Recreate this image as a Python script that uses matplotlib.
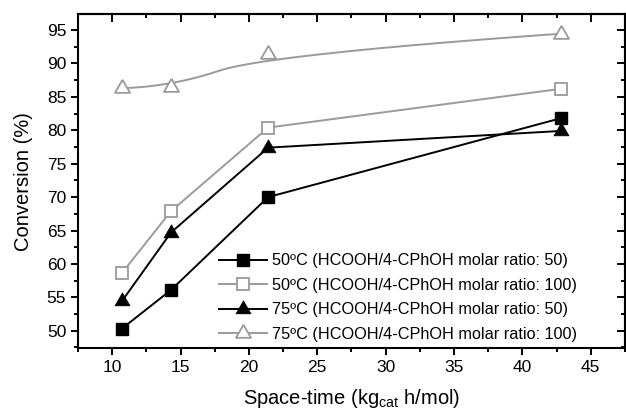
import numpy as np
import matplotlib.pyplot as plt
from matplotlib.ticker import MultipleLocator

plt.rcParams['font.family'] = ['Liberation Sans', 'DejaVu Sans']

# space-time (kg_cat h/mol)
space_time = [10.7, 14.3, 21.4, 42.8]

# conversion (%)
conv_50C_r50 = [50.3, 56.1, 70.0, 81.8]
conv_50C_r100 = [58.6, 67.9, 80.4, 86.2]
conv_75C_r50 = [54.4, 64.7, 77.4, 79.9]
conv_75C_r100 = [86.3, 86.5, 91.35, 94.45]

labels = ["50\u00baC (HCOOH/4-CPhOH molar ratio: 50)",
          "50\u00baC (HCOOH/4-CPhOH molar ratio: 100)",
          "75\u00baC (HCOOH/4-CPhOH molar ratio: 50)",
          "75\u00baC (HCOOH/4-CPhOH molar ratio: 100)"]

grey = "#9a9a9a"
lw = 1.4

# triangle centred on its centroid (like origin draws it)
tri = [(0, 2), (-1.732, -1), (1.732, -1), (0, 2)]

# quadratic b-spline with the points as control points (origin "b-spline" line)
def bspline2(xs, ys, n=100):
    px = np.array(xs, float)
    py = np.array(ys, float)
    # control points of the bezier pieces: P0, P1, mid(P1,P2), ..., Pn
    mx = (px[1:-2] + px[2:-1]) / 2
    my = (py[1:-2] + py[2:-1]) / 2
    starts_x = np.concatenate([[px[0]], mx])
    starts_y = np.concatenate([[py[0]], my])
    ends_x = np.concatenate([mx, [px[-1]]])
    ends_y = np.concatenate([my, [py[-1]]])
    t = np.linspace(0, 1, n)
    out_x, out_y = [], []
    for i in range(len(starts_x)):
        cx, cy = px[i + 1], py[i + 1]
        out_x.append((1-t)**2*starts_x[i] + 2*(1-t)*t*cx + t**2*ends_x[i])
        out_y.append((1-t)**2*starts_y[i] + 2*(1-t)*t*cy + t**2*ends_y[i])
    return np.concatenate(out_x), np.concatenate(out_y)

fig = plt.figure(figsize=(6.26, 4.12), dpi=100)
ax = fig.add_axes([0.1246, 0.155, 0.8738, 0.811])

ax.plot(space_time, conv_50C_r50, color="black", lw=lw, marker="s", ms=8.5,
        mfc="black", mec="black", label=labels[0])
ax.plot(space_time, conv_50C_r100, color=grey, lw=lw, marker="s", ms=8.5,
        mfc="white", mec=grey, mew=1.3, label=labels[1])
ax.plot(space_time, conv_75C_r50, color="black", lw=lw, marker=tri, ms=12.5,
        mfc="black", mec="black", mew=0.5, label=labels[2])

sx, sy = bspline2(space_time, conv_75C_r100)
ax.plot(sx, sy, color=grey, lw=lw)
ax.plot(space_time, conv_75C_r100, ls="none", marker=tri, ms=12.5,
        mfc="white", mec=grey, mew=1.3)
# legend proxy for the smoothed series
ax.plot([], [], color=grey, lw=lw, marker=tri, ms=12.5, mfc="white", mec=grey,
        mew=1.3, label=labels[3])

ax.set_xlim(7.5, 47.5)
ax.set_ylim(47.4, 97.4)

ax.xaxis.set_major_locator(MultipleLocator(5))
ax.xaxis.set_minor_locator(MultipleLocator(2.5))
ax.yaxis.set_major_locator(MultipleLocator(5))
ax.yaxis.set_minor_locator(MultipleLocator(2.5))

ax.tick_params(which="both", direction="out", width=1.4, labelsize=12.5)
ax.tick_params(which="major", length=5)
ax.tick_params(which="minor", length=3)

# top/right ticks point inwards
top = ax.secondary_xaxis("top")
top.xaxis.set_major_locator(MultipleLocator(5))
top.xaxis.set_minor_locator(MultipleLocator(2.5))
top.tick_params(which="both", direction="in", width=1.4, labeltop=False)
top.tick_params(which="major", length=5.5)
top.tick_params(which="minor", length=3)
right = ax.secondary_yaxis("right")
right.yaxis.set_major_locator(MultipleLocator(5))
right.yaxis.set_minor_locator(MultipleLocator(2.5))
right.tick_params(which="both", direction="in", width=1.4, labelright=False)
right.tick_params(which="major", length=5.5)
right.tick_params(which="minor", length=3)

for sp in list(ax.spines.values()) + [top.spines["top"], right.spines["right"]]:
    sp.set_linewidth(1.5)

ax.set_xlabel("Space-time (kg$_{\\mathregular{cat}}$ h/mol)", fontsize=14.5, labelpad=9)
ax.set_ylabel("Conversion (%)", fontsize=14.5, labelpad=10)

ax.legend(loc="lower left", bbox_to_anchor=(0.245, 0.0), frameon=False,
          fontsize=11.7, handlelength=3.0, handletextpad=0.3,
          labelspacing=0.58, borderpad=0.2, borderaxespad=0.2)

fig.savefig("out.png", dpi=100)
